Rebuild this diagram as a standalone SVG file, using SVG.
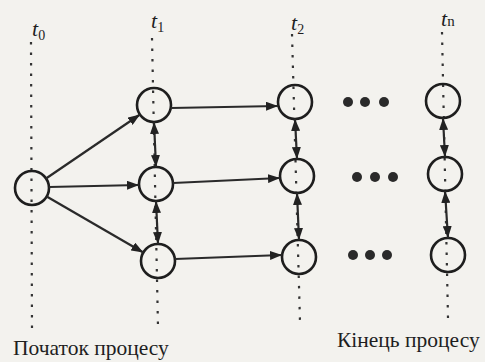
<svg xmlns="http://www.w3.org/2000/svg" width="485" height="362" viewBox="0 0 485 362">
<style>
.bg{fill:#f3f2ee}
.node{fill:none;stroke:#1e1e1e;stroke-width:2.6}
.dot{stroke:#333;stroke-width:2.2;stroke-dasharray:2.5 8;fill:none}
.edge{stroke:#2a2a2a;stroke-width:2.2;fill:none}
.ell{fill:#2a2a2a}
.lbl{font-family:"Liberation Serif","DejaVu Serif",serif;font-style:italic;font-size:22px;fill:#1e1e1e}
.sub{font-size:14px;font-style:normal}
.cap{font-family:"Liberation Serif","DejaVu Serif",serif;font-size:21.5px;fill:#1e1e1e}
</style>
<defs>
<marker id="ah" viewBox="0 0 12 9" refX="12" refY="4.5" markerWidth="12" markerHeight="9" markerUnits="userSpaceOnUse" orient="auto-start-reverse">
<path d="M0,0 L12,4.5 L0,9 z" fill="#222"/>
</marker>
</defs>
<rect class="bg" x="0" y="0" width="485" height="362"/>
<g id="timelines">
<line class="dot" x1="31" y1="42" x2="32" y2="330"/>
<line class="dot" x1="152" y1="38" x2="158" y2="327"/>
<line class="dot" x1="292" y1="34" x2="300" y2="322"/>
<line class="dot" x1="442" y1="32" x2="448" y2="318"/>
</g>
<g id="labels">
<text class="lbl" x="32" y="36">t<tspan class="sub" dy="4">0</tspan></text>
<text class="lbl" x="151" y="28">t<tspan class="sub" dy="4">1</tspan></text>
<text class="lbl" x="291" y="30">t<tspan class="sub" dy="4">2</tspan></text>
<text class="lbl" x="441" y="26">t<tspan class="sub" style="font-size:15px">n</tspan></text>
</g>
<g id="n0"><circle class="node" cx="32" cy="188" r="17"/></g>
<g id="n1a"><circle class="node" cx="154" cy="105" r="17"/></g>
<g id="n1b"><circle class="node" cx="156" cy="184" r="17"/></g>
<g id="n1c"><circle class="node" cx="158" cy="261" r="17"/></g>
<g id="n2a"><circle class="node" cx="295" cy="102" r="17"/></g>
<g id="n2b"><circle class="node" cx="297" cy="176" r="17"/></g>
<g id="n2c"><circle class="node" cx="299" cy="257" r="17"/></g>
<g id="nna"><circle class="node" cx="443" cy="101" r="17"/></g>
<g id="nnb"><circle class="node" cx="445" cy="174" r="17"/></g>
<g id="nnc"><circle class="node" cx="448" cy="255" r="17"/></g>
<g id="connectors">
<line class="edge" x1="46" y1="178.5" x2="140" y2="114.5" marker-end="url(#ah)"/>
<line class="edge" x1="49" y1="187" x2="139" y2="185" marker-end="url(#ah)"/>
<line class="edge" x1="46.7" y1="196.5" x2="143.3" y2="252.5" marker-end="url(#ah)"/>
<line class="edge" x1="171" y1="108" x2="278" y2="106" marker-end="url(#ah)"/>
<line class="edge" x1="173" y1="183" x2="280" y2="178" marker-end="url(#ah)"/>
<line class="edge" x1="175" y1="259" x2="282" y2="255" marker-end="url(#ah)"/>
<line class="edge" x1="154" y1="122" x2="156" y2="167" marker-start="url(#ah)" marker-end="url(#ah)"/>
<line class="edge" x1="156" y1="201" x2="158" y2="244" marker-start="url(#ah)" marker-end="url(#ah)"/>
<line class="edge" x1="295" y1="119" x2="297" y2="159" marker-start="url(#ah)" marker-end="url(#ah)"/>
<line class="edge" x1="297" y1="193" x2="299" y2="240" marker-start="url(#ah)" marker-end="url(#ah)"/>
<line class="edge" x1="443" y1="118" x2="445" y2="157" marker-start="url(#ah)" marker-end="url(#ah)"/>
<line class="edge" x1="445" y1="191" x2="448" y2="238" marker-start="url(#ah)" marker-end="url(#ah)"/>
</g>
<g id="ellipsis">
<circle class="ell" cx="348" cy="102" r="5"/><circle class="ell" cx="365" cy="102" r="5"/><circle class="ell" cx="384" cy="102" r="5"/>
<circle class="ell" cx="357" cy="177" r="5"/><circle class="ell" cx="375" cy="177" r="5"/><circle class="ell" cx="393" cy="177" r="5"/>
<circle class="ell" cx="353" cy="255" r="5"/><circle class="ell" cx="370" cy="255" r="5"/><circle class="ell" cx="387" cy="255" r="5"/>
</g>
<g id="captions">
<text class="cap" x="13" y="355">Початок процесу</text>
<text class="cap" x="337" y="347">Кінець процесу</text>
</g>
</svg>
